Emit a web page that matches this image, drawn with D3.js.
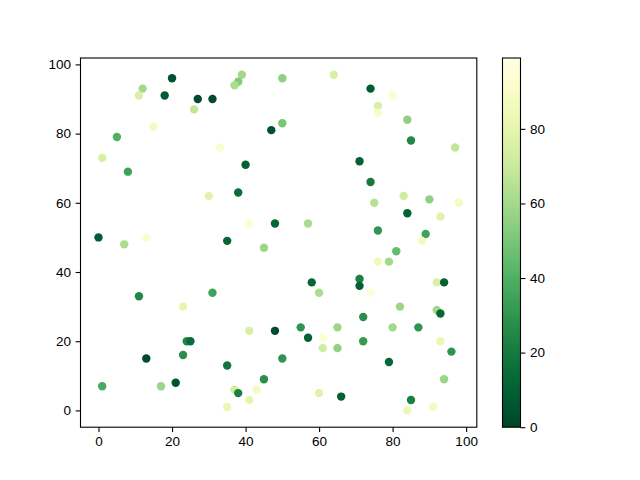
<!DOCTYPE html>
<html><head><meta charset="utf-8">
<script src="https://cdn.jsdelivr.net/npm/d3@7"></script>
<style>body{margin:0;background:#fff}text{font-family:"Liberation Sans",sans-serif;font-size:13.5px;fill:#000}</style>
</head><body><svg id="c" width="640" height="480"></svg>
<script>
const xs = [20,12,11,18,27,31,26,39,38,37,50,15,5,33,1,8,40,47,50,64,74,80,76,76,84,85,97,71,74,30,38,41,48,0,7,13,35,45,11,31,23,83,75,90,98,84,93,57,76,89,88,81,76,79,58,60,71,71,74,92,94,82,92,93,41,48,24,25,13,23,35,50,1,17,21,45,37,38,43,41,35,72,55,65,80,87,57,61,61,65,72,93,96,79,94,60,66,85,84,91];
const ys = [96,93,91,91,90,90,87,97,95,94,96,82,79,76,73,69,71,81,83,97,93,91,88,86,84,78,76,72,66,62,63,54,54,50,48,50,49,47,33,34,30,62,60,61,60,57,56,54,52,51,49,46,43,43,37,34,38,36,34,37,37,30,29,28,23,23,20,20,15,16,13,15,7,7,8,9,6,5,6,3,1,27,24,24,24,24,21,21,18,18,20,20,17,14,9,5,4,3,0,1];
const cs = [5,60,75,8,2,2,68,60,52,62,55,88,40,93,75,35,10,4,50,75,8,92,75,90,55,25,68,10,20,78,15,93,12,8,62,92,12,58,25,35,80,72,65,55,88,10,78,62,30,35,88,45,85,60,12,62,22,10,95,75,10,58,60,12,75,3,25,15,2,28,18,30,38,58,5,28,72,22,88,80,82,28,30,58,60,30,10,95,72,55,32,82,30,12,58,78,10,22,82,88];
const xTicks = [0,20,40,60,80,100];
const yTicks = [0,20,40,60,80,100];
const cTicks = [0,20,40,60,80];
const cMin = 0, cMax = 99;

const svg = d3.select("#c");
const L=80.5, T=58, R=476.8, B=427.2;
const x = d3.scaleLinear().domain([-4.9,102.9]).range([L,R]);
const y = d3.scaleLinear().domain([-4.85,101.85]).range([B,T]);
const col = t => d3.interpolateYlGn(1 - (t - cMin)/(cMax - cMin));

const g = svg.append("g");
g.selectAll("circle").data(xs.map((v,i)=>({x:v,y:ys[i],c:cs[i]}))).enter()
  .append("circle").attr("cx",d=>x(d.x)).attr("cy",d=>y(d.y)).attr("r",4.2)
  .attr("fill",d=>col(d.c));

svg.append("rect").attr("x",L).attr("y",T).attr("width",R-L).attr("height",B-T)
  .attr("fill","none").attr("stroke","#000").attr("stroke-width",1.1);

const xa = svg.append("g").attr("transform",`translate(0,${B})`)
  .call(d3.axisBottom(x).tickValues(xTicks).tickSize(4.9).tickPadding(4.5).tickFormat(d3.format("d")));
const ya = svg.append("g").attr("transform",`translate(${L},0)`)
  .call(d3.axisLeft(y).tickValues(yTicks).tickSize(4.9).tickPadding(4.5).tickFormat(d3.format("d")));
[xa,ya].forEach(a=>{a.select(".domain").remove();a.selectAll("line").attr("stroke-width",1.1);
  a.selectAll("text").attr("font-family","Liberation Sans, sans-serif").attr("font-size",13.5);});

// colorbar
const CL=502.5, CR=520.5;
const cy = d3.scaleLinear().domain([cMin,cMax]).range([B,T]);
const defs = svg.append("defs");
const grad = defs.append("linearGradient").attr("id","cg").attr("x1",0).attr("y1",1).attr("x2",0).attr("y2",0);
d3.range(0,1.0001,0.05).forEach(t=>grad.append("stop").attr("offset",t).attr("stop-color",col(cMin+t*(cMax-cMin))));
svg.append("rect").attr("x",CL).attr("y",T).attr("width",CR-CL).attr("height",B-T).attr("fill","url(#cg)");
svg.append("rect").attr("x",CL).attr("y",T).attr("width",CR-CL).attr("height",B-T)
  .attr("fill","none").attr("stroke","#000").attr("stroke-width",1.1);
const ca = svg.append("g").attr("transform",`translate(${CR},0)`)
  .call(d3.axisRight(cy).tickValues(cTicks).tickSize(4.9).tickPadding(4.5).tickFormat(d3.format("d")));
ca.select(".domain").remove(); ca.selectAll("line").attr("stroke-width",1.1);
ca.selectAll("text").attr("font-family","Liberation Sans, sans-serif").attr("font-size",13.5);
</script></body></html>
